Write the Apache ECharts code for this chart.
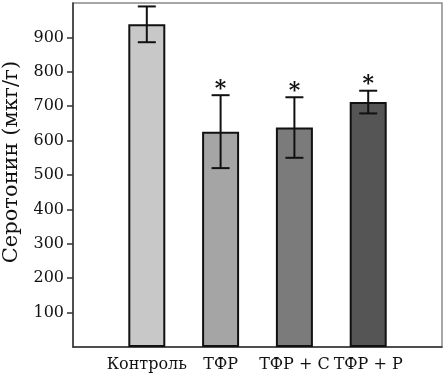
<!DOCTYPE html>
<html>
<head>
<meta charset="utf-8">
<script src="https://cdn.jsdelivr.net/npm/echarts@6/dist/echarts.min.js"></script>
<style>
  html, body { margin: 0; padding: 0; background: #fff; }
  #chart { width: 447px; height: 377px; }
</style>
</head>
<body>
<div id="chart"></div>
<script>
// padded with empty slots so bars sit at 1..4 of 0..5
const categories = ['', 'Контроль', 'ТФР', 'ТФР + С', 'ТФР + Р', ''];
const means = [null, 938, 626, 638, 712, null];
const errors = [null, 52, 106, 88, 33, null];
const barColors = ['#fff', '#c8c8c8', '#a5a5a5', '#7b7b7b', '#555555', '#fff'];
const signif = [false, false, true, true, true, false];
const yTicks = [100, 200, 300, 400, 500, 600, 700, 800, 900];
const yTitle = 'Серотонин (мкг/г)';

const font = 'DejaVu Serif';

const chart = echarts.init(document.getElementById('chart'), null, { renderer: 'canvas' });

const errData = means.map((m, i) => (m == null ? null : [i, m, errors[i]])).filter(Boolean);
const starData = means.map((m, i) => (signif[i] ? [i, m + errors[i]] : null)).filter(Boolean);

chart.setOption({
  animation: false,
  grid: {
    left: 73, right: 5, top: 3, bottom: 30,
    show: true, borderColor: '#8a8a8a', borderWidth: 1.5, backgroundColor: 'transparent'
  },
  graphic: [
    {
      type: 'text',
      x: 12, y: 162,
      rotation: Math.PI / 2,
      style: {
        text: yTitle, fill: '#111', font: '21px ' + font,
        textAlign: 'center', textVerticalAlign: 'middle'
      }
    }
  ],
  xAxis: {
    type: 'category',
    data: categories,
    boundaryGap: false,
    axisLine: { lineStyle: { color: '#333', width: 1.5 } },
    axisTick: { show: false },
    axisLabel: { color: '#111', fontFamily: font, fontSize: 16, margin: 10, interval: 0 },
    splitLine: { show: false }
  },
  yAxis: {
    type: 'value',
    min: 0, max: 1000, interval: 100,
    axisLine: { show: true, lineStyle: { color: '#333', width: 1.5 } },
    axisTick: { show: true, length: 6, lineStyle: { color: '#333', width: 1.5 }, customValues: yTicks },
    axisLabel: { color: '#111', fontFamily: font, fontSize: 16, margin: 9, customValues: yTicks },
    splitLine: { show: false }
  },
  series: [
    {
      type: 'bar',
      barWidth: 37,
      data: means.map((m, i) => ({
        value: m,
        itemStyle: { color: barColors[i], borderColor: '#111', borderWidth: 2 }
      }))
    },
    {
      type: 'custom',
      data: errData,
      renderItem: (params, api) => {
        const x = api.value(0);
        const m = api.value(1);
        const e = api.value(2);
        const hi = api.coord([x, m + e]);
        const lo = api.coord([x, m - e]);
        const half = 9;
        const style = { stroke: '#111', lineWidth: 2 };
        return {
          type: 'group',
          children: [
            { type: 'line', shape: { x1: hi[0], y1: hi[1], x2: lo[0], y2: lo[1] }, style },
            { type: 'line', shape: { x1: hi[0] - half, y1: hi[1], x2: hi[0] + half, y2: hi[1] }, style },
            { type: 'line', shape: { x1: lo[0] - half, y1: lo[1], x2: lo[0] + half, y2: lo[1] }, style }
          ]
        };
      },
      z: 5
    },
    {
      type: 'custom',
      data: starData,
      renderItem: (params, api) => {
        const p = api.coord([api.value(0), api.value(1)]);
        return {
          type: 'text',
          x: p[0], y: p[1] - 6,
          style: {
            text: '*', fill: '#111', font: 'bold 22px ' + font,
            textAlign: 'center', textVerticalAlign: 'middle'
          }
        };
      },
      z: 5
    }
  ]
});
</script>
</body>
</html>
